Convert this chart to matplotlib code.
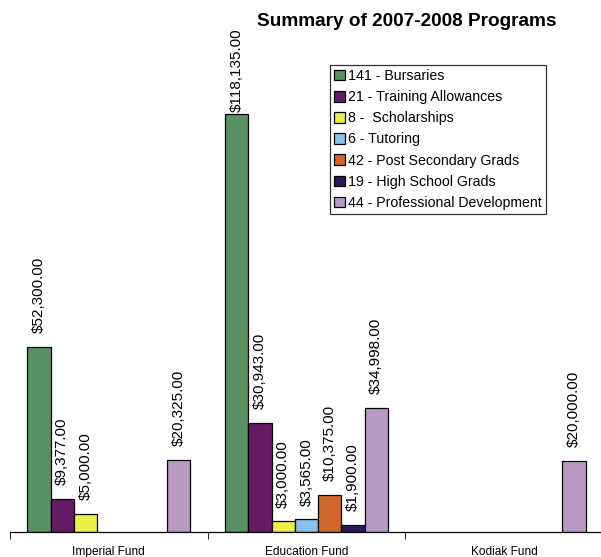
import numpy as np
import matplotlib.pyplot as plt
from matplotlib.patches import Patch

plt.rcParams['font.family'] = ['Liberation Sans', 'DejaVu Sans']

funds = ['Imperial Fund', 'Education Fund', 'Kodiak Fund']
programs = ['141 - Bursaries', '21 - Training Allowances', '8 -  Scholarships',
            '6 - Tutoring', '42 - Post Secondary Grads', '19 - High School Grads',
            '44 - Professional Development']
colors = ['#5a9162', '#661a66', '#eeee48', '#86c0ec', '#d0662a', '#2c1a5c', '#b89ac4']

# amounts per program, one entry per fund (None = no spending)
bursaries = [52300.00, 118135.00, None]
training = [9377.00, 30943.00, None]
scholarships = [5000.00, 3000.00, None]
tutoring = [None, 3565.00, None]
post_secondary = [None, 10375.00, None]
high_school = [None, 1900.00, None]
prof_dev = [20325.00, 34998.00, 20000.00]
series = [bursaries, training, scholarships, tutoring, post_secondary, high_school, prof_dev]

W, H = 601, 557
fig = plt.figure(figsize=(W / 100, H / 100), dpi=100)
ax = fig.add_axes([10 / W, (H - 532) / H, 593 / W, 495 / H])

x = np.arange(len(funds))
width = 1 / 8.5
labels = []
for i, (vals, col) in enumerate(zip(series, colors)):
    pos = x + (i - 3) * width
    for p, v in zip(pos, vals):
        if v is None:
            continue
        ax.bar(p, v, width, color=col, edgecolor='black', linewidth=0.9)
        t = ax.annotate(f'${v:,.2f}', (p, v), xytext=(0, 10),
                        textcoords='offset points', rotation=90, ha='center',
                        va='bottom', fontsize=11, annotation_clip=False)
        labels.append(t)

ax.set_xlim(-0.5, 2.5)
ax.set_ylim(0, 140000)
ax.set_xticks(x)
ax.set_xticklabels(funds, fontsize=8.6)
ax.set_xticks([-0.5, 0.5, 1.5, 2.5], minor=True)
ax.tick_params(axis='x', which='major', length=0, pad=10)
ax.tick_params(axis='x', which='minor', length=5, direction='out')
ax.set_yticks([])
for s in ['left', 'right', 'top']:
    ax.spines[s].set_visible(False)
ax.spines['bottom'].set_linewidth(0.9)

fig.text(407 / W, 1 - 22 / H, 'Summary of 2007-2008 Programs', ha='center',
         va='center', fontsize=13.7, fontweight='bold')

handles = [Patch(facecolor=c, edgecolor='black', linewidth=0.9) for c in colors]
leg = ax.legend(handles, programs, loc='upper left',
                bbox_to_anchor=(330 / W, 1 - 65 / H),
                bbox_transform=fig.transFigure, fontsize=10.2, frameon=True,
                fancybox=False, edgecolor='black', handlelength=0.75,
                handleheight=0.75, handletextpad=0.25, labelspacing=0.5,
                borderpad=0.3, borderaxespad=0)
leg.get_frame().set_linewidth(0.9)

# push labels that would run off the top back down into the chart area
fig.canvas.draw()
top_limit = H - 28
for t in labels:
    bb = t.get_window_extent()
    if bb.y1 > top_limit:
        dx, dy = t.xyann
        t.xyann = (dx, dy - (bb.y1 - top_limit) * 72 / fig.dpi)

fig.savefig('out.png', dpi=100)
